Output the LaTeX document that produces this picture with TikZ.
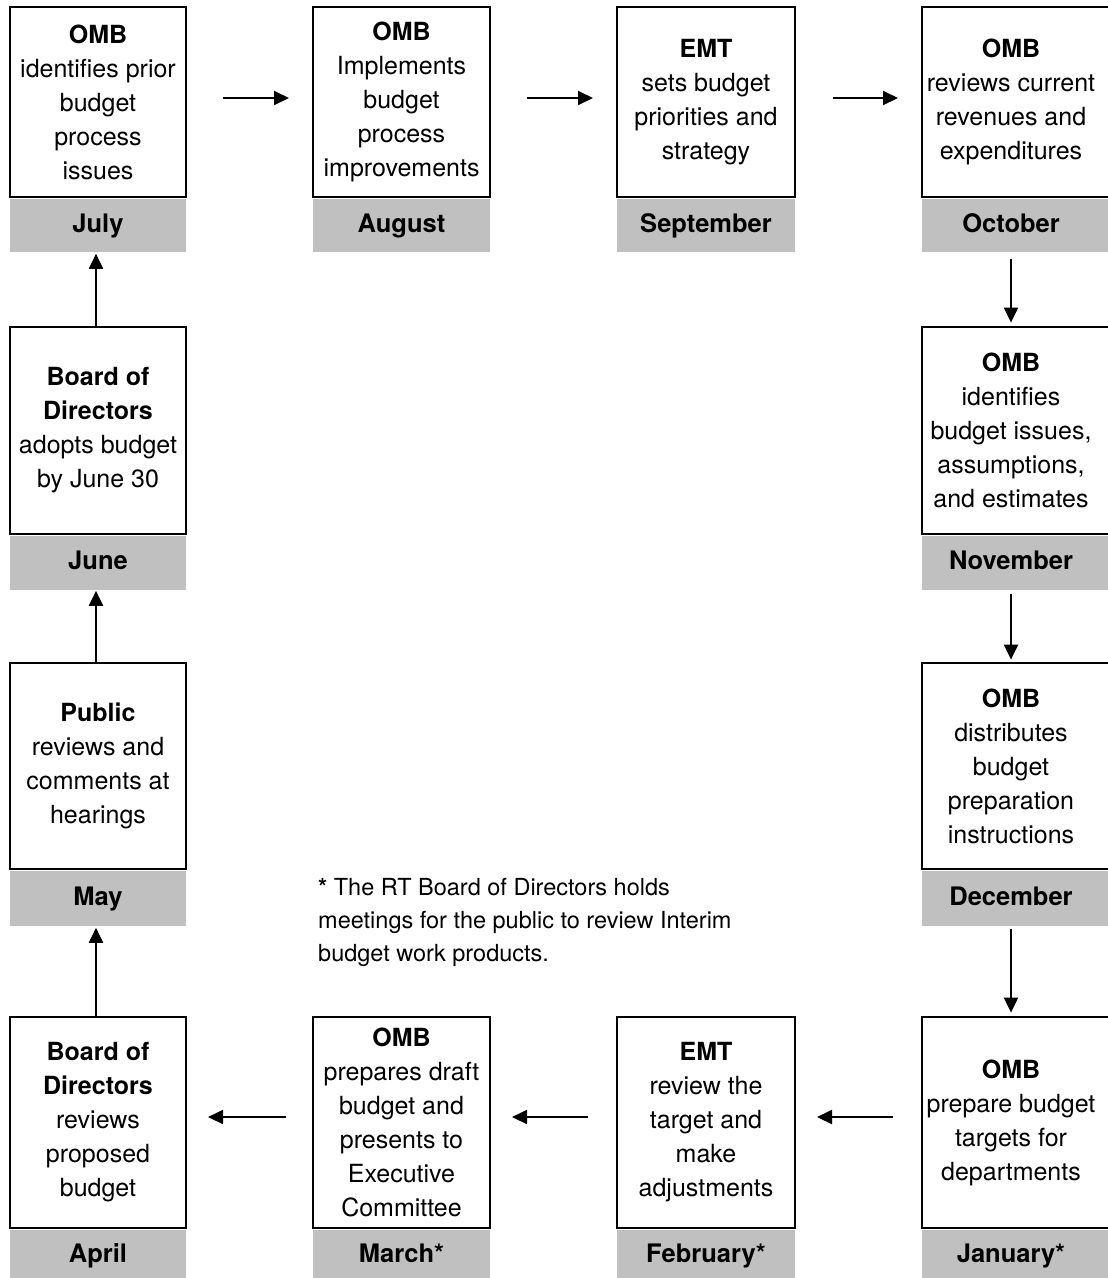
\documentclass[tikz,border=0pt]{standalone}
\usepackage{fontspec}
\setmainfont{TeX Gyre Heros}
\usetikzlibrary{arrows.meta}
\definecolor{labgray}{RGB}{192,192,192}
\begin{document}
\begin{tikzpicture}[x=1pt,y=-1pt,
  boxshape/.style={draw=black, line width=2.8pt, rectangle, inner sep=0pt},
  monthlab/.style={fill=labgray, rectangle, inner sep=0pt, anchor=north,
    text height=19pt, text depth=5pt,
    font=\fontsize{25.5}{30}\selectfont\bfseries},
  boxtext/.style={align=center, inner sep=0pt, font=\fontsize{25}{34}\selectfont},
  notetext/.style={align=left, inner sep=0pt, anchor=north west,
    font=\fontsize{23.5}{33}\selectfont},
  arr/.style={line width=2pt, -{Triangle[length=15pt,width=14pt]}}]
\useasboundingbox (0,0) rectangle (1108,1278);

% ---- boxes ----
% row 1
\node[boxshape, minimum width=176pt, minimum height=190pt] (jul) at (98,102) {};
\node[boxshape, minimum width=177pt, minimum height=190pt] (aug) at (401.5,102) {};
\node[boxshape, minimum width=178pt, minimum height=190pt] (sep) at (706,102) {};
\node[boxshape, minimum width=190pt, minimum height=190pt] (oct) at (1017,102) {};
% row 2
\node[boxshape, minimum width=176pt, minimum height=207pt] (jun) at (98,430.5) {};
\node[boxshape, minimum width=190pt, minimum height=207pt] (nov) at (1017,430.5) {};
% row 3
\node[boxshape, minimum width=176pt, minimum height=206pt] (may) at (98,766) {};
\node[boxshape, minimum width=190pt, minimum height=206pt] (dec) at (1017,766) {};
% row 4
\node[boxshape, minimum width=176pt, minimum height=211pt] (apr) at (98,1122.5) {};
\node[boxshape, minimum width=177pt, minimum height=211pt] (mar) at (401.5,1122.5) {};
\node[boxshape, minimum width=178pt, minimum height=211pt] (feb) at (706,1122.5) {};
\node[boxshape, minimum width=190pt, minimum height=211pt] (jan) at (1017,1122.5) {};

% ---- month labels ----
\node[monthlab, minimum width=176pt, minimum height=53pt] (julL) at (jul.south) {July};
\node[monthlab, minimum width=177pt, minimum height=53pt] (augL) at (aug.south) {August};
\node[monthlab, minimum width=178pt, minimum height=53pt] (sepL) at (sep.south) {September};
\node[monthlab, minimum width=190pt, minimum height=53pt] (octL) at (oct.south) {\hspace*{-12pt}October};
\node[monthlab, minimum width=176pt, minimum height=54pt] (junL) at (jun.south) {June};
\node[monthlab, minimum width=190pt, minimum height=54pt] (novL) at (nov.south) {\hspace*{-12pt}November};
\node[monthlab, minimum width=176pt, minimum height=55pt] (mayL) at (may.south) {May};
\node[monthlab, minimum width=190pt, minimum height=55pt] (decL) at (dec.south) {\hspace*{-12pt}December};
\node[monthlab, minimum width=176pt, minimum height=52pt] (aprL) at (apr.south) {April};
\node[monthlab, minimum width=177pt, minimum height=52pt] (marL) at (mar.south) {March*};
\node[monthlab, minimum width=178pt, minimum height=52pt] (febL) at (feb.south) {February*};
\node[monthlab, minimum width=190pt, minimum height=52pt] (janL) at (jan.south) {\hspace*{-12pt}January*};

% ---- box texts ----
\node[boxtext] (julT) at (jul.center) {\textbf{OMB}\\identifies prior\\budget\\process\\issues};
\node[boxtext] (augT) at (aug.center) {\textbf{OMB}\\Implements\\budget\\process\\improvements};
\node[boxtext] (sepT) at (sep.center) {\textbf{EMT}\\sets budget\\priorities and\\strategy};
\node[boxtext] (octT) at ([xshift=-6pt]oct.center) {\textbf{OMB}\\reviews current\\revenues and\\expenditures};
\node[boxtext] (novT) at ([xshift=-6pt]nov.center) {\textbf{OMB}\\identifies\\budget issues,\\assumptions,\\and estimates};
\node[boxtext] (decT) at ([xshift=-6pt]dec.center) {\textbf{OMB}\\distributes\\budget\\preparation\\instructions};
\node[boxtext] (janT) at ([xshift=-6pt]jan.center) {\textbf{OMB}\\prepare budget\\targets for\\departments};
\node[boxtext] (febT) at (feb.center) {\textbf{EMT}\\review the\\target and\\make\\adjustments};
\node[boxtext] (marT) at (mar.center) {\textbf{OMB}\\prepares draft\\budget and\\presents to\\Executive\\Committee};
\node[boxtext] (aprT) at (apr.center) {\textbf{Board of}\\\textbf{Directors}\\reviews\\proposed\\budget};
\node[boxtext] (mayT) at (may.center) {\textbf{Public}\\reviews and\\comments at\\hearings};
\node[boxtext] (junT) at (jun.center) {\textbf{Board of}\\\textbf{Directors}\\adopts budget\\by June 30};

% ---- footnote ----
\node[notetext] (note) at (318,878) {\textbf{*} The RT Board of Directors holds\\meetings for the public to review Interim\\budget work products.};

% ---- connectors ----
% top row, left to right
\draw[arr] ([xshift=35.6pt,yshift=4pt]jul.east) -- ([xshift=-22.6pt,yshift=4pt]aug.west);
\draw[arr] ([xshift=35.6pt,yshift=4pt]aug.east) -- ([xshift=-22.6pt,yshift=4pt]sep.west);
\draw[arr] ([xshift=36.6pt,yshift=4pt]sep.east) -- ([xshift=-22.6pt,yshift=4pt]oct.west);
% right column, downwards
\draw[arr] ([xshift=-6pt,yshift=-7pt]octL.south) -- ([xshift=-6pt,yshift=3pt]nov.north);
\draw[arr] ([xshift=-6pt,yshift=-4pt]novL.south) -- ([xshift=-6pt,yshift=2pt]dec.north);
\draw[arr] ([xshift=-6pt,yshift=-3pt]decL.south) -- ([xshift=-6pt,yshift=3pt]jan.north);
% bottom row, right to left
\draw[arr] ([xshift=-27.6pt,yshift=5.5pt]jan.west) -- ([xshift=20.6pt,yshift=5.5pt]feb.east);
\draw[arr] ([xshift=-27.6pt,yshift=5.5pt]feb.west) -- ([xshift=20.6pt,yshift=5.5pt]mar.east);
\draw[arr] ([xshift=-25.6pt,yshift=5.5pt]mar.west) -- ([xshift=20.6pt,yshift=5.5pt]apr.east);
% left column, upwards
\draw[arr] ([xshift=-2pt]apr.north) -- ([xshift=-2pt,yshift=-2pt]mayL.south);
\draw[arr] ([xshift=-2pt]may.north) -- ([xshift=-2pt,yshift=-1pt]junL.south);
\draw[arr] ([xshift=-2pt]jun.north) -- ([xshift=-2pt,yshift=-2pt]julL.south);
\end{tikzpicture}
\end{document}
